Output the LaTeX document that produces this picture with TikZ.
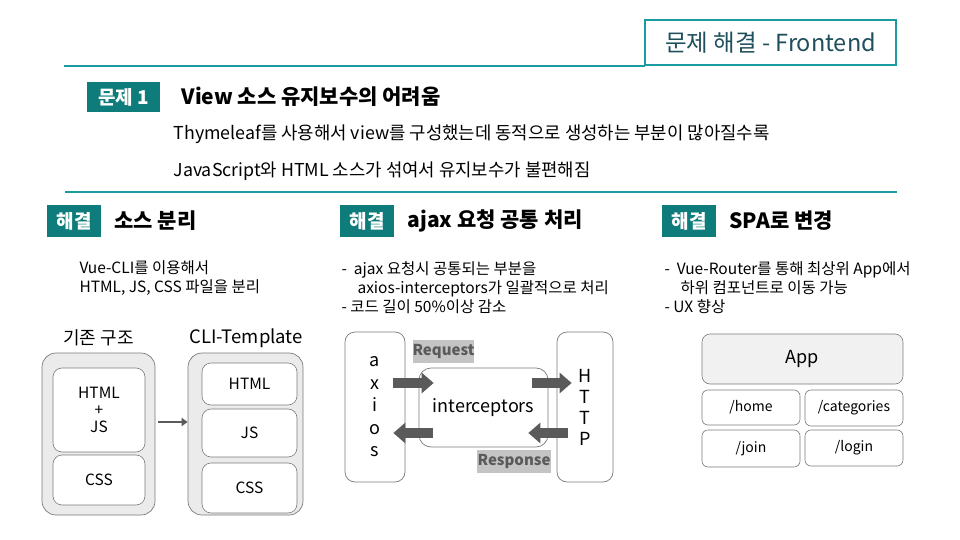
\documentclass[tikz,border=0pt]{standalone}
\usepackage{fontspec}
\setmainfont{Noto Sans CJK KR}
\usetikzlibrary{positioning,arrows.meta,calc}
\definecolor{teal1}{HTML}{1A9BA1}
\definecolor{tealbadge}{HTML}{0E7C7B}
\definecolor{tealtext}{HTML}{1F4F5C}
\definecolor{gris}{HTML}{7A7A7A}
\definecolor{grisfondo}{HTML}{EBEBEB}
\definecolor{grisflecha}{HTML}{5A5A5A}
\definecolor{grisetiqueta}{HTML}{C4C4C4}
\tikzset{
  badge/.style={fill=tealbadge, text=white, font=\fontsize{19}{19}\selectfont\bfseries,
    inner sep=0pt, minimum height=30pt},
  heading/.style={anchor=west, font=\fontsize{21}{21}\selectfont\bfseries},
  body/.style={anchor=west, font=\fontsize{15.5}{19}\selectfont, align=left},
  outerbox/.style={draw=gris, fill=grisfondo, rounded corners=14pt, line width=0.7pt},
  innerbox/.style={draw=gris, fill=white, rounded corners=9pt, line width=0.6pt,
    font=\fontsize{15.5}{17}\selectfont, align=center},
  routebox/.style={draw=gris, fill=white, rounded corners=6pt, line width=0.6pt,
    font=\fontsize{14}{16}\selectfont},
  blockarrow/.style={grisflecha, line width=10pt, -{Triangle[length=12pt,width=20pt]}},
  tag/.style={fill=grisetiqueta, text=grisflecha, font=\fontsize{15}{15}\selectfont\bfseries,
    inner sep=0pt}
}
\begin{document}
\begin{tikzpicture}[x=1pt, y=-1pt]
  \useasboundingbox (0,0) rectangle (960,540);
  % title
  \draw[teal1, line width=2pt] (64,66) -- (645,66);
  \node[draw=teal1, line width=2pt, minimum width=251pt, minimum height=45pt, inner sep=0pt,
    text=tealtext, font=\fontsize{23.5}{23.5}\selectfont] (titulo) at (770.5,43) {문제 해결 - Frontend};
  % problem
  \node[badge, minimum width=73pt] (prob) at (123.5,97) {문제 1};
  \node[heading] (probtit) at (178,97) {View 소스 유지보수의 어려움};
  \node[body, font=\fontsize{17.8}{17.8}\selectfont] (prob1) at (170,134) {Thymeleaf를 사용해서 view를 구성했는데 동적으로 생성하는 부분이 많아질수록};
  \node[body, font=\fontsize{17.8}{17.8}\selectfont] (prob2) at (170,171) {JavaScript와 HTML 소스가 섞여서 유지보수가 불편해짐};
  \draw[teal1, line width=1.5pt] (65,192) -- (897,192);
  % solutions
  \node[badge, minimum width=54pt, minimum height=32pt] (sol1) at (74,221) {해결};
  \node[heading] (sol1tit) at (111,221) {소스 분리};
  \node[badge, minimum width=54pt, minimum height=32pt] (sol2) at (367,221) {해결};
  \node[heading] (sol2tit) at (404,221) {ajax 요청 공통 처리};
  \node[badge, minimum width=54pt, minimum height=32pt] (sol3) at (689,221) {해결};
  \node[heading] (sol3tit) at (726,221) {SPA로 변경};
  \node[body] (sol1txt) at (76,278.5) {Vue-CLI를 이용해서\\HTML, JS, CSS 파일을 분리};
  \node[body] (sol2txt) at (338,288) {-\ \ ajax 요청시 공통되는 부분을\\\hspace*{16pt}axios-interceptors가 일괄적으로 처리\\- 코드 길이 50\%이상 감소};
  \node[body] (sol3txt) at (661,288) {-\ \ Vue-Router를 통해 최상위 App에서\\\hspace*{16pt}하위 컴포넌트로 이동 가능\\- UX 향상};
  % source split
  \node[font=\fontsize{18}{18}\selectfont] (antes) at (98.5,338) {기존 구조};
  \node[font=\fontsize{18.5}{18.5}\selectfont] (despues) at (246,338) {CLI-Template};
  \node[outerbox, minimum width=113pt, minimum height=162pt] (viejo) at (98.5,434) {};
  \node[innerbox, minimum width=92pt, minimum height=84pt] (htmljs) at (99,410) {HTML\\+\\JS};
  \node[innerbox, minimum width=92pt, minimum height=50pt] (cssv) at (99,480) {CSS};
  \node[outerbox, minimum width=115pt, minimum height=162pt] (nuevo) at (245.5,434) {};
  \node[innerbox, minimum width=95pt, minimum height=42pt] (htmln) at (249.5,384) {HTML};
  \node[innerbox, minimum width=95pt, minimum height=48pt] (jsn) at (249.5,433) {JS};
  \node[innerbox, minimum width=95pt, minimum height=50pt] (cssn) at (249.5,488) {CSS};
  \draw[grisflecha, line width=2.5pt, -{Triangle[length=6pt,width=8pt]}, shorten <=3pt]
    ($(viejo.east)+(0,-12)$) -- ($(nuevo.west)+(0,-12)$);
  % ajax interceptors
  \node[draw=gris, fill=white, rounded corners=10pt, line width=0.7pt, minimum width=60pt,
    minimum height=150pt, align=center, font=\fontsize{18}{22.5}\selectfont] (axios) at (375,407) {a\\x\\i\\o\\s};
  \node[draw=gris, fill=white, rounded corners=10pt, line width=0.7pt, minimum width=56pt,
    minimum height=150pt, align=center, font=\fontsize{18}{21}\selectfont] (http) at (585,407) {H\\T\\T\\P};
  \node[draw=gris, fill=white, rounded corners=12pt, line width=0.7pt, minimum width=129pt,
    minimum height=79pt, font=\fontsize{18}{18}\selectfont] (intc) at (483.5,407.5) {interceptors};
  \node[tag, minimum width=61pt, minimum height=23pt] (req) at (443.5,351.5) {Request};
  \node[tag, minimum width=74pt, minimum height=23pt] (resp) at (514,461.5) {Response};
  \draw[blockarrow] ($(axios.east)+(-12,-24)$) -- ($(intc.west)+(15,-24.5)$);
  \draw[blockarrow] ($(intc.east)+(-16,-24.5)$) -- ($(http.west)+(15,-24)$);
  \draw[blockarrow] ($(intc.west)+(14,25.5)$) -- ($(axios.east)+(-12,26)$);
  \draw[blockarrow] ($(http.west)+(11,26)$) -- ($(intc.east)+(-20,25.5)$);
  % spa
  \node[draw=gris, fill=grisfondo!70, rounded corners=8pt, line width=0.6pt, minimum width=201pt,
    minimum height=50pt, font=\fontsize{18}{18}\selectfont] (app) at (802.5,359) {App};
  \node[routebox, minimum width=98pt, minimum height=35pt] (home) at (751,407.5) {/home};
  \node[routebox, minimum width=98pt, minimum height=36pt] (cats) at (854,408) {/categories};
  \node[routebox, minimum width=98pt, minimum height=37pt] (join) at (751,448.5) {/join};
  \node[routebox, minimum width=98pt, minimum height=36pt] (login) at (854,448) {/login};
\end{tikzpicture}
\end{document}
